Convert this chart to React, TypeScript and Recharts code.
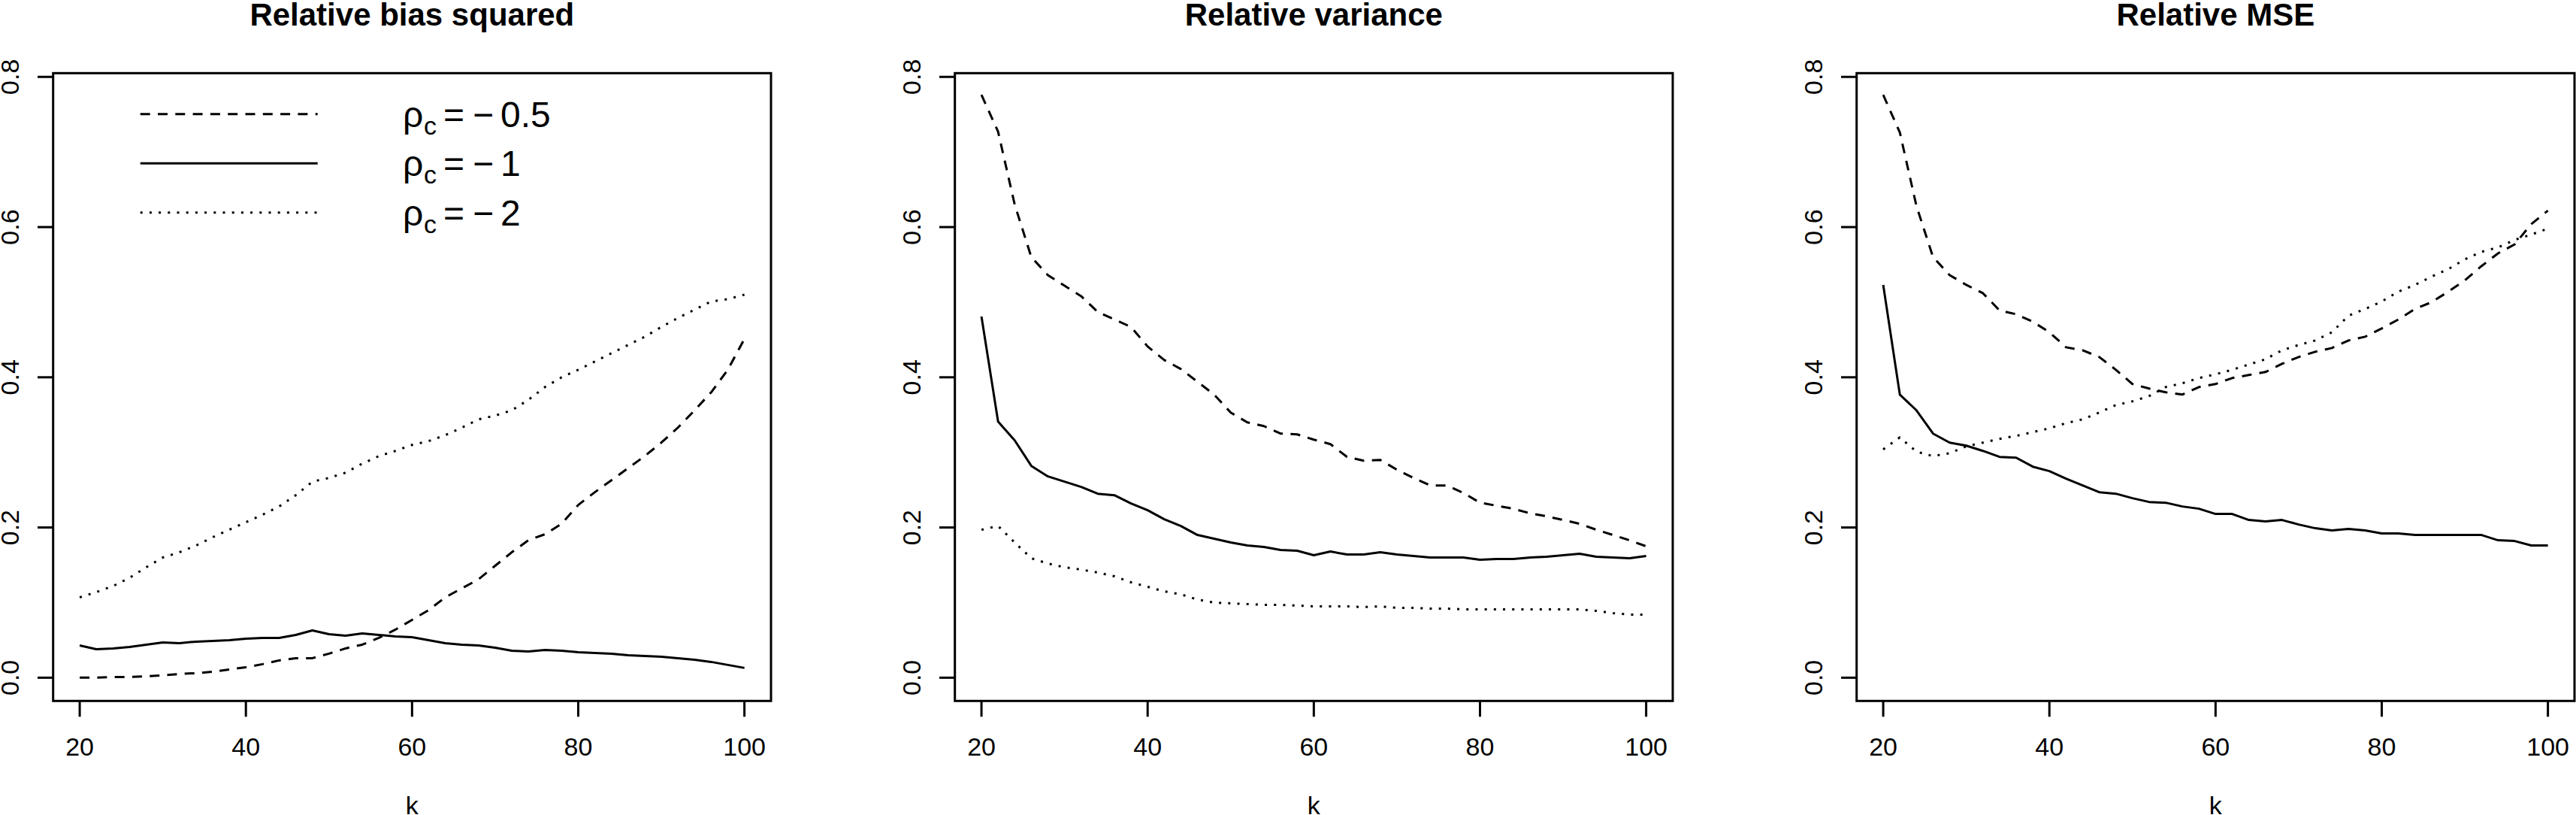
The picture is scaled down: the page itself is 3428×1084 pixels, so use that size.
import { LineChart, Line, XAxis, YAxis } from 'recharts';

const kValues = [20, 22, 24, 26, 28, 30, 32, 34, 36, 38, 40, 42, 44, 46, 48, 50, 52, 54, 56, 58, 60, 62, 64, 66, 68, 70, 72, 74, 76, 78, 80, 82, 84, 86, 88, 90, 92, 94, 96, 98, 100];

const biasHalf = [0.000, 0.000, 0.001, 0.001, 0.002, 0.003, 0.005, 0.006, 0.008, 0.011, 0.014, 0.018, 0.023, 0.026, 0.026, 0.032, 0.039, 0.044, 0.053, 0.064, 0.077, 0.090, 0.107, 0.119, 0.131, 0.149, 0.167, 0.183, 0.191, 0.205, 0.230, 0.247, 0.263, 0.279, 0.295, 0.313, 0.333, 0.356, 0.380, 0.410, 0.451];
const biasOne = [0.043, 0.038, 0.039, 0.041, 0.044, 0.047, 0.046, 0.048, 0.049, 0.050, 0.052, 0.053, 0.053, 0.057, 0.063, 0.058, 0.056, 0.059, 0.057, 0.055, 0.054, 0.050, 0.046, 0.044, 0.043, 0.040, 0.036, 0.035, 0.037, 0.036, 0.034, 0.033, 0.032, 0.030, 0.029, 0.028, 0.026, 0.024, 0.021, 0.017, 0.013];
const biasTwo = [0.107, 0.114, 0.122, 0.133, 0.147, 0.160, 0.167, 0.176, 0.187, 0.197, 0.207, 0.217, 0.228, 0.243, 0.261, 0.266, 0.273, 0.285, 0.295, 0.302, 0.310, 0.315, 0.323, 0.333, 0.344, 0.349, 0.356, 0.370, 0.387, 0.400, 0.410, 0.421, 0.432, 0.443, 0.454, 0.467, 0.479, 0.490, 0.501, 0.504, 0.510];

const varHalf = [0.776, 0.727, 0.630, 0.560, 0.536, 0.522, 0.508, 0.487, 0.477, 0.467, 0.441, 0.423, 0.411, 0.394, 0.377, 0.353, 0.340, 0.335, 0.325, 0.324, 0.317, 0.311, 0.294, 0.289, 0.290, 0.277, 0.266, 0.256, 0.256, 0.246, 0.233, 0.229, 0.225, 0.219, 0.215, 0.210, 0.205, 0.197, 0.190, 0.183, 0.175];
const varOne = [0.481, 0.341, 0.316, 0.282, 0.268, 0.261, 0.254, 0.245, 0.243, 0.232, 0.223, 0.211, 0.202, 0.190, 0.185, 0.180, 0.176, 0.174, 0.170, 0.169, 0.163, 0.168, 0.164, 0.164, 0.167, 0.164, 0.162, 0.160, 0.160, 0.160, 0.157, 0.158, 0.158, 0.160, 0.161, 0.163, 0.165, 0.161, 0.160, 0.159, 0.162];
const varTwo = [0.197, 0.202, 0.180, 0.159, 0.152, 0.147, 0.144, 0.140, 0.135, 0.127, 0.121, 0.115, 0.111, 0.104, 0.100, 0.099, 0.098, 0.097, 0.097, 0.096, 0.095, 0.095, 0.095, 0.094, 0.095, 0.093, 0.093, 0.092, 0.092, 0.091, 0.091, 0.091, 0.091, 0.091, 0.091, 0.091, 0.091, 0.089, 0.086, 0.084, 0.084];

const mseHalf = [0.776, 0.726, 0.628, 0.560, 0.536, 0.523, 0.512, 0.489, 0.484, 0.474, 0.460, 0.440, 0.436, 0.427, 0.410, 0.391, 0.385, 0.380, 0.377, 0.387, 0.391, 0.399, 0.403, 0.407, 0.418, 0.427, 0.434, 0.439, 0.449, 0.454, 0.465, 0.477, 0.491, 0.500, 0.514, 0.529, 0.548, 0.565, 0.577, 0.604, 0.622];
const mseOne = [0.523, 0.377, 0.356, 0.325, 0.313, 0.309, 0.302, 0.294, 0.293, 0.281, 0.275, 0.265, 0.256, 0.247, 0.245, 0.239, 0.234, 0.233, 0.228, 0.225, 0.218, 0.218, 0.210, 0.208, 0.210, 0.204, 0.199, 0.196, 0.198, 0.196, 0.192, 0.192, 0.190, 0.190, 0.190, 0.190, 0.190, 0.183, 0.182, 0.176, 0.176];
const mseTwo = [0.304, 0.320, 0.301, 0.295, 0.299, 0.308, 0.313, 0.318, 0.322, 0.327, 0.332, 0.339, 0.344, 0.353, 0.363, 0.368, 0.375, 0.387, 0.392, 0.399, 0.404, 0.410, 0.417, 0.424, 0.436, 0.443, 0.449, 0.460, 0.482, 0.491, 0.501, 0.514, 0.523, 0.534, 0.544, 0.557, 0.567, 0.573, 0.583, 0.590, 0.598];

const xTicks = [20, 40, 60, 80, 100];
const yTicks = [0, 0.2, 0.4, 0.6, 0.8];
const legendLabels = ['\u22120.5', '\u22121', '\u22122'];

const FONT = '"Liberation Sans", Arial, Helvetica, sans-serif';
const DASHED = '13 10.3';
const DOTTED = '3 9.2';

// plot box geometry (same for all three panels)
const BOX_TOP = 97.3;
const BOX_BOTTOM = 932.3;
const AXIS_W = 70.7;
const BOX_W = 955.3;
const CHART_W = 1046;
const CHART_H = 1084;

interface Row {
    k: number;
    half: number;
    one: number;
    two: number;
}

function rows(half: number[], one: number[], two: number[]): Row[] {
    return kValues.map((k, i) => ({ k, half: half[i], one: one[i], two: two[i] }));
}

const panels = [
    { title: 'Relative bias squared', data: rows(biasHalf, biasOne, biasTwo), left: 0, legend: true },
    { title: 'Relative variance', data: rows(varHalf, varOne, varTwo), left: 1200, legend: false },
    { title: 'Relative MSE', data: rows(mseHalf, mseOne, mseTwo), left: 2400.3, legend: false },
];

function XTick(props: any) {
    const { x, y, payload } = props;
    return (
        <text x={x} y={y + 51.7} textAnchor="middle" fontSize={34} fontFamily={FONT} fill="#000">
            {payload.value}
        </text>
    );
}

function YTick(props: any) {
    const { x, y, payload } = props;
    const tx = x - 25;
    return (
        <text x={tx} y={y} transform={`rotate(-90, ${tx}, ${y})`} textAnchor="middle" fontSize={34} fontFamily={FONT} fill="#000">
            {Number(payload.value).toFixed(1)}
        </text>
    );
}

function Legend() {
    const lineYs = [151.7, 217.3, 282.7];
    const styles = [DASHED, undefined, DOTTED];
    return (
        <g>
            {lineYs.map((ly, i) => (
                <g key={i}>
                    <line x1={186.7} x2={422.7} y1={ly} y2={ly} stroke="#000" strokeWidth={3} strokeDasharray={styles[i]} />
                    <text y={ly + 17} fontSize={48} fontFamily={FONT} fill="#000">
                        <tspan x={536}>ρ</tspan>
                        <tspan x={564} dy={10} fontSize={34}>c</tspan>
                        <tspan x={590} dy={-10}>=</tspan>
                        <tspan x={629}>{legendLabels[i].charAt(0)}</tspan>
                        <tspan x={666}>{legendLabels[i].slice(1)}</tspan>
                    </text>
                </g>
            ))}
        </g>
    );
}

function Panel({ title, data, left, legend }: { title: string; data: Row[]; left: number; legend: boolean }) {
    const cx = AXIS_W + BOX_W / 2;
    return (
        <div style={{ position: 'absolute', left, top: 0, width: CHART_W, height: CHART_H }}>
            <LineChart width={CHART_W} height={CHART_H} data={data} margin={{ top: BOX_TOP, right: CHART_W - AXIS_W - BOX_W, bottom: 0, left: 0 }}>
                <XAxis
                    dataKey="k"
                    type="number"
                    domain={[16.8, 103.2]}
                    ticks={xTicks}
                    interval={0}
                    allowDataOverflow
                    height={CHART_H - BOX_BOTTOM}
                    tickSize={21}
                    tickMargin={0}
                    axisLine={false}
                    tickLine={{ stroke: '#000', strokeWidth: 3 }}
                    tick={XTick}
                />
                <YAxis
                    type="number"
                    domain={[-0.03096, 0.80496]}
                    ticks={yTicks}
                    interval={0}
                    allowDataOverflow
                    width={AXIS_W}
                    tickSize={20.7}
                    tickMargin={0}
                    axisLine={false}
                    tickLine={{ stroke: '#000', strokeWidth: 3 }}
                    tick={YTick}
                />
                <Line type="linear" dataKey="half" stroke="#000" strokeWidth={3} strokeDasharray={DASHED} strokeLinejoin="round" dot={false} isAnimationActive={false} />
                <Line type="linear" dataKey="one" stroke="#000" strokeWidth={3} strokeLinejoin="round" dot={false} isAnimationActive={false} />
                <Line type="linear" dataKey="two" stroke="#000" strokeWidth={3} strokeDasharray={DOTTED} strokeLinejoin="round" dot={false} isAnimationActive={false} />
            </LineChart>
            <svg width={CHART_W} height={CHART_H} style={{ position: 'absolute', left: 0, top: 0, pointerEvents: 'none' }}>
                <rect x={AXIS_W} y={BOX_TOP} width={BOX_W} height={BOX_BOTTOM - BOX_TOP} fill="none" stroke="#000" strokeWidth={3} />
                <text x={cx} y={34} textAnchor="middle" fontSize={42} fontWeight="bold" fontFamily={FONT} fill="#000">
                    {title}
                </text>
                <text x={cx} y={1083} textAnchor="middle" fontSize={34} fontFamily={FONT} fill="#000">
                    k
                </text>
                {legend && <Legend />}
            </svg>
        </div>
    );
}

export default function App() {
    return (
        <div style={{ position: 'absolute', left: 0, top: 0, width: 3428, height: 1084, background: '#fff', overflow: 'hidden' }}>
            {panels.map((p) => (
                <Panel key={p.title} {...p} />
            ))}
        </div>
    );
}
